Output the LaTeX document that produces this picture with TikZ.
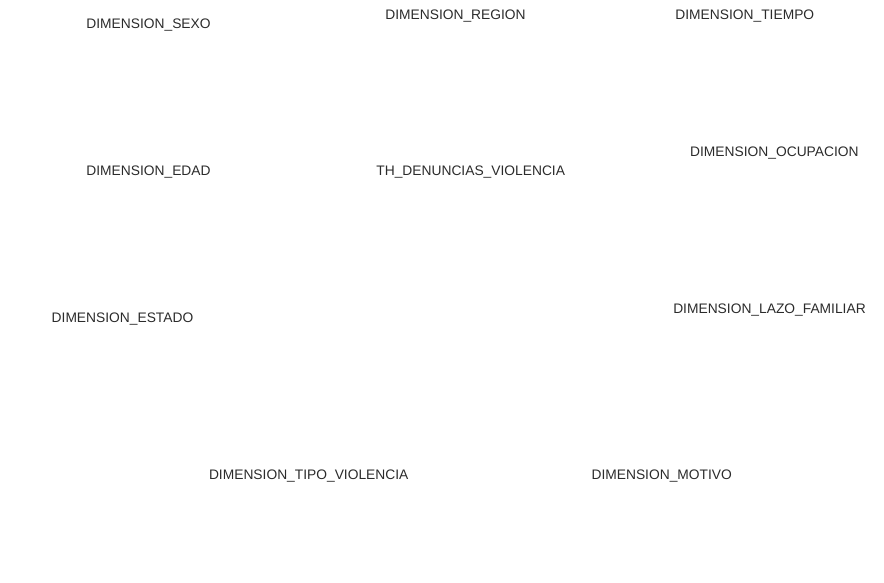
\documentclass[tikz,border=0pt]{standalone}
\usepackage{fontspec}
\setmainfont{Liberation Sans}
\usetikzlibrary{positioning}
\definecolor{txtgray}{HTML}{2B2B2B}

\begin{document}
\begin{tikzpicture}[x=1pt, y=-1pt,
  dimtab/.style={anchor=base, inner sep=0pt, text=txtgray,
    font=\fontsize{13.8}{16}\selectfont}]

\useasboundingbox (0,0) rectangle (884,583);

% 定义位置
\coordinate (Psexo) at (148.5,28.5);
\coordinate (Pregion) at (455.5,19.5);
\coordinate (Ptiempo) at (744.8,20);
\coordinate (Pedad) at (148.5,175.5);
\coordinate (Phecho) at (470.7,175.5);
\coordinate (Pocup) at (774.4,156.5);
\coordinate (Pestado) at (122.5,322.5);
\coordinate (Plazo) at (769.5,313.5);
\coordinate (Ptipo) at (308.7,479.5);
\coordinate (Pmotivo) at (661.7,479.5);

\node[dimtab] (sexo) at (Psexo) {DIMENSION\_SEXO};
\node[dimtab] (region) at (Pregion) {DIMENSION\_REGION};
\node[dimtab] (tiempo) at (Ptiempo) {DIMENSION\_TIEMPO};
\node[dimtab] (edad) at (Pedad) {DIMENSION\_EDAD};
\node[dimtab] (hecho) at (Phecho) {TH\_DENUNCIAS\_VIOLENCIA};
\node[dimtab] (ocup) at (Pocup) {DIMENSION\_OCUPACION};
\node[dimtab] (estado) at (Pestado) {DIMENSION\_ESTADO};
\node[dimtab] (lazo) at (Plazo) {DIMENSION\_LAZO\_FAMILIAR};
\node[dimtab] (tipo) at (Ptipo) {DIMENSION\_TIPO\_VIOLENCIA};
\node[dimtab] (motivo) at (Pmotivo) {DIMENSION\_MOTIVO};

\end{tikzpicture}
\end{document}
